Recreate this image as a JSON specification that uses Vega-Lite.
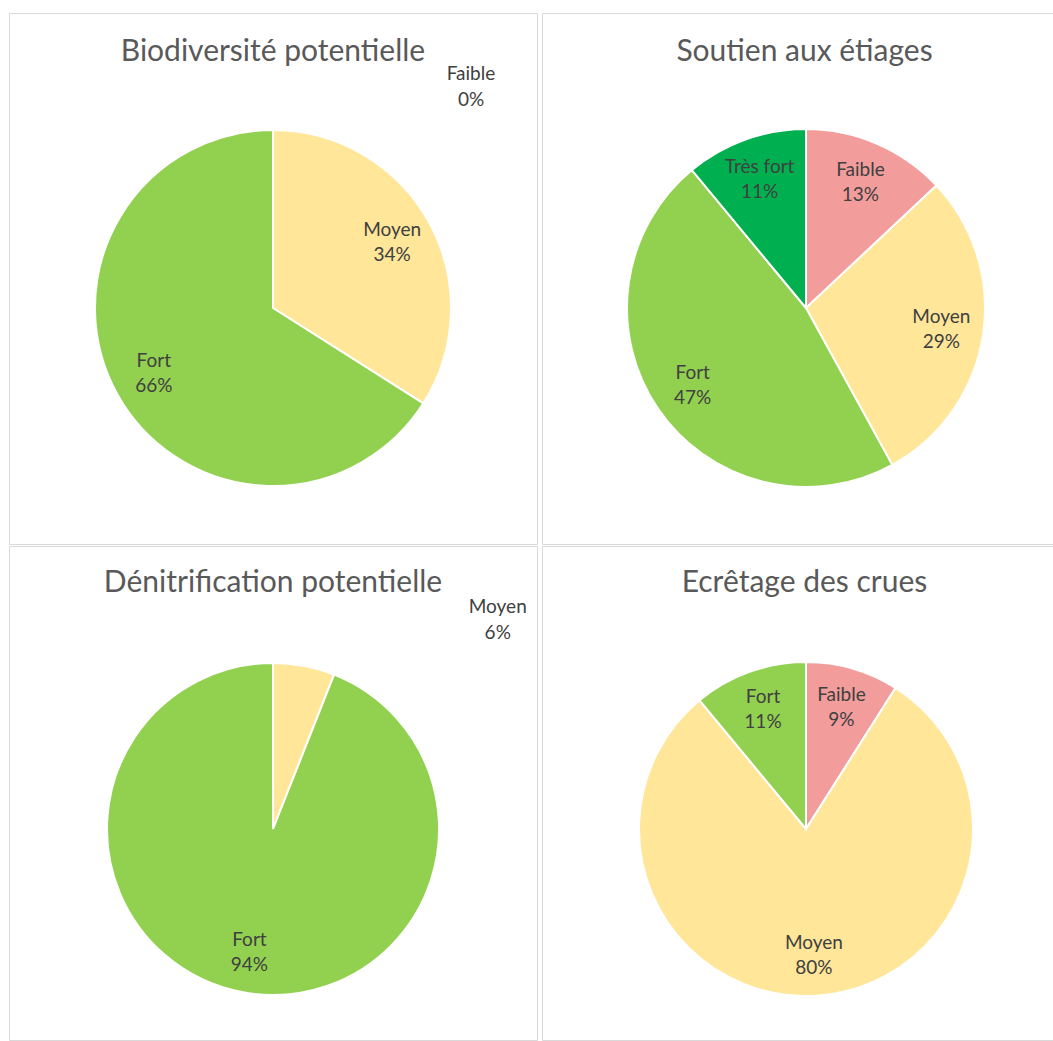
{
  "$schema": "https://vega.github.io/schema/vega-lite/v6.json",
  "background": "white",
  "padding": {"left": 8, "top": 12, "right": 0, "bottom": 0},
  "spacing": 0,
  "config": {
    "view": {"stroke": "#d9d9d9", "strokeWidth": 1},
    "title": {"font": "Lato", "fontSize": 30, "fontWeight": "normal", "color": "#595959", "anchor": "middle", "baseline": "alphabetic"},
    "text": {"font": "Lato", "fontSize": 19}
  },
  "datasets": {
    "bio": [
      {"niveau": "Faible", "share": 0, "rank": 1},
      {"niveau": "Moyen", "share": 0.34, "rank": 2},
      {"niveau": "Fort", "share": 0.66, "rank": 3}
    ],
    "etiage": [
      {"niveau": "Faible", "share": 0.13, "rank": 1},
      {"niveau": "Moyen", "share": 0.29, "rank": 2},
      {"niveau": "Fort", "share": 0.47, "rank": 3},
      {"niveau": "Très fort", "share": 0.11, "rank": 4}
    ],
    "denit": [
      {"niveau": "Moyen", "share": 0.06, "rank": 2},
      {"niveau": "Fort", "share": 0.94, "rank": 3}
    ],
    "crues": [
      {"niveau": "Faible", "share": 0.09, "rank": 1},
      {"niveau": "Moyen", "share": 0.80, "rank": 2},
      {"niveau": "Fort", "share": 0.11, "rank": 3}
    ]
  },
  "vconcat": [
    {
      "spacing": 5,
      "bounds": "flush",
      "hconcat": [
        {
          "width": 528, "height": 531,
          "view": {"stroke": "#d9d9d9", "strokeWidth": 1},
          "data": {"name": "bio"},
          "title": {"text": "Biodiversité potentielle", "offset": -54},
          "encoding": {
            "theta": {"field": "share", "type": "quantitative", "stack": true},
            "order": {"field": "rank", "type": "quantitative"},
            "color": {"field": "niveau", "type": "nominal", "legend": null,
              "scale": {"domain": ["Faible", "Moyen", "Fort", "Très fort"], "range": ["#F29C9B", "#FFE699", "#92D050", "#00B050"]}}
          },
          "layer": [
            {"mark": {"type": "arc", "outerRadius": 178, "stroke": "white", "strokeWidth": 2, "yOffset": 29.5}},
            {"mark": {"type": "text", "radius": 136, "yOffset": 29.5, "dy": -12.5},
             "encoding": {"text": {"condition": {"test": "datum.share < 0.07", "value": ""}, "field": "niveau", "type": "nominal"}, "color": {"value": "#404040"}, "detail": {"field": "niveau"}}},
            {"mark": {"type": "text", "radius": 136, "yOffset": 29.5, "dy": 12.5},
             "encoding": {"text": {"condition": {"test": "datum.share < 0.07", "value": ""}, "field": "share", "type": "quantitative", "format": ".0%"}, "color": {"value": "#404040"}, "detail": {"field": "niveau"}}},
            {"mark": {"type": "text", "radius": 100, "yOffset": 29.5, "dx": 198, "dy": -134},
             "encoding": {"text": {"condition": {"test": "datum.share >= 0.07", "value": ""}, "field": "niveau", "type": "nominal"}, "color": {"value": "#404040"}, "detail": {"field": "niveau"}}},
            {"mark": {"type": "text", "radius": 100, "yOffset": 29.5, "dx": 198, "dy": -108},
             "encoding": {"text": {"condition": {"test": "datum.share >= 0.07", "value": ""}, "field": "share", "type": "quantitative", "format": ".0%"}, "color": {"value": "#404040"}, "detail": {"field": "niveau"}}}
          ]
        },
        {
          "width": 511, "height": 531,
          "view": {"stroke": "#d9d9d9", "strokeWidth": 1},
          "data": {"name": "etiage"},
          "title": {"text": "Soutien aux étiages", "offset": -54, "dx": 7},
          "encoding": {
            "theta": {"field": "share", "type": "quantitative", "stack": true},
            "order": {"field": "rank", "type": "quantitative"},
            "color": {"field": "niveau", "type": "nominal", "legend": null,
              "scale": {"domain": ["Faible", "Moyen", "Fort", "Très fort"], "range": ["#F29C9B", "#FFE699", "#92D050", "#00B050"]}}
          },
          "layer": [
            {"mark": {"type": "arc", "outerRadius": 179, "stroke": "white", "strokeWidth": 2, "xOffset": 8.5, "yOffset": 29.5}},
            {"mark": {"type": "text", "radius": 137, "xOffset": 8.5, "yOffset": 29.5, "dy": -12.5},
             "encoding": {"text": {"field": "niveau", "type": "nominal"}, "color": {"value": "#404040"}, "detail": {"field": "niveau"}}},
            {"mark": {"type": "text", "radius": 137, "xOffset": 8.5, "yOffset": 29.5, "dy": 12.5},
             "encoding": {"text": {"field": "share", "type": "quantitative", "format": ".0%"}, "color": {"value": "#404040"}, "detail": {"field": "niveau"}}}
          ]
        }
      ]
    },
    {
      "spacing": 5,
      "bounds": "flush",
      "hconcat": [
        {
          "width": 528, "height": 494,
          "view": {"stroke": "#d9d9d9", "strokeWidth": 1},
          "data": {"name": "denit"},
          "title": {"text": "Dénitrification potentielle", "offset": -52},
          "encoding": {
            "theta": {"field": "share", "type": "quantitative", "stack": true},
            "order": {"field": "rank", "type": "quantitative"},
            "color": {"field": "niveau", "type": "nominal", "legend": null,
              "scale": {"domain": ["Faible", "Moyen", "Fort", "Très fort"], "range": ["#F29C9B", "#FFE699", "#92D050", "#00B050"]}}
          },
          "layer": [
            {"mark": {"type": "arc", "outerRadius": 166, "stroke": "white", "strokeWidth": 2, "yOffset": 36}},
            {"mark": {"type": "text", "radius": 126, "yOffset": 36, "dy": -12.5},
             "encoding": {"text": {"condition": {"test": "datum.share < 0.07", "value": ""}, "field": "niveau", "type": "nominal"}, "color": {"value": "#404040"}, "detail": {"field": "niveau"}}},
            {"mark": {"type": "text", "radius": 126, "yOffset": 36, "dy": 12.5},
             "encoding": {"text": {"condition": {"test": "datum.share < 0.07", "value": ""}, "field": "share", "type": "quantitative", "format": ".0%"}, "color": {"value": "#404040"}, "detail": {"field": "niveau"}}},
            {"mark": {"type": "text", "radius": 100, "yOffset": 36, "dx": 206, "dy": -124},
             "encoding": {"text": {"condition": {"test": "datum.share >= 0.07", "value": ""}, "field": "niveau", "type": "nominal"}, "color": {"value": "#404040"}, "detail": {"field": "niveau"}}},
            {"mark": {"type": "text", "radius": 100, "yOffset": 36, "dx": 206, "dy": -98},
             "encoding": {"text": {"condition": {"test": "datum.share >= 0.07", "value": ""}, "field": "share", "type": "quantitative", "format": ".0%"}, "color": {"value": "#404040"}, "detail": {"field": "niveau"}}}
          ]
        },
        {
          "width": 511, "height": 494,
          "view": {"stroke": "#d9d9d9", "strokeWidth": 1},
          "data": {"name": "crues"},
          "title": {"text": "Ecrêtage des crues", "offset": -52, "dx": 7},
          "encoding": {
            "theta": {"field": "share", "type": "quantitative", "stack": true},
            "order": {"field": "rank", "type": "quantitative"},
            "color": {"field": "niveau", "type": "nominal", "legend": null,
              "scale": {"domain": ["Faible", "Moyen", "Fort", "Très fort"], "range": ["#F29C9B", "#FFE699", "#92D050", "#00B050"]}}
          },
          "layer": [
            {"mark": {"type": "arc", "outerRadius": 167, "stroke": "white", "strokeWidth": 2, "xOffset": 8.5, "yOffset": 36}},
            {"mark": {"type": "text", "radius": 127, "xOffset": 8.5, "yOffset": 36, "dy": -12.5},
             "encoding": {"text": {"field": "niveau", "type": "nominal"}, "color": {"value": "#404040"}, "detail": {"field": "niveau"}}},
            {"mark": {"type": "text", "radius": 127, "xOffset": 8.5, "yOffset": 36, "dy": 12.5},
             "encoding": {"text": {"field": "share", "type": "quantitative", "format": ".0%"}, "color": {"value": "#404040"}, "detail": {"field": "niveau"}}}
          ]
        }
      ]
    }
  ]
}
